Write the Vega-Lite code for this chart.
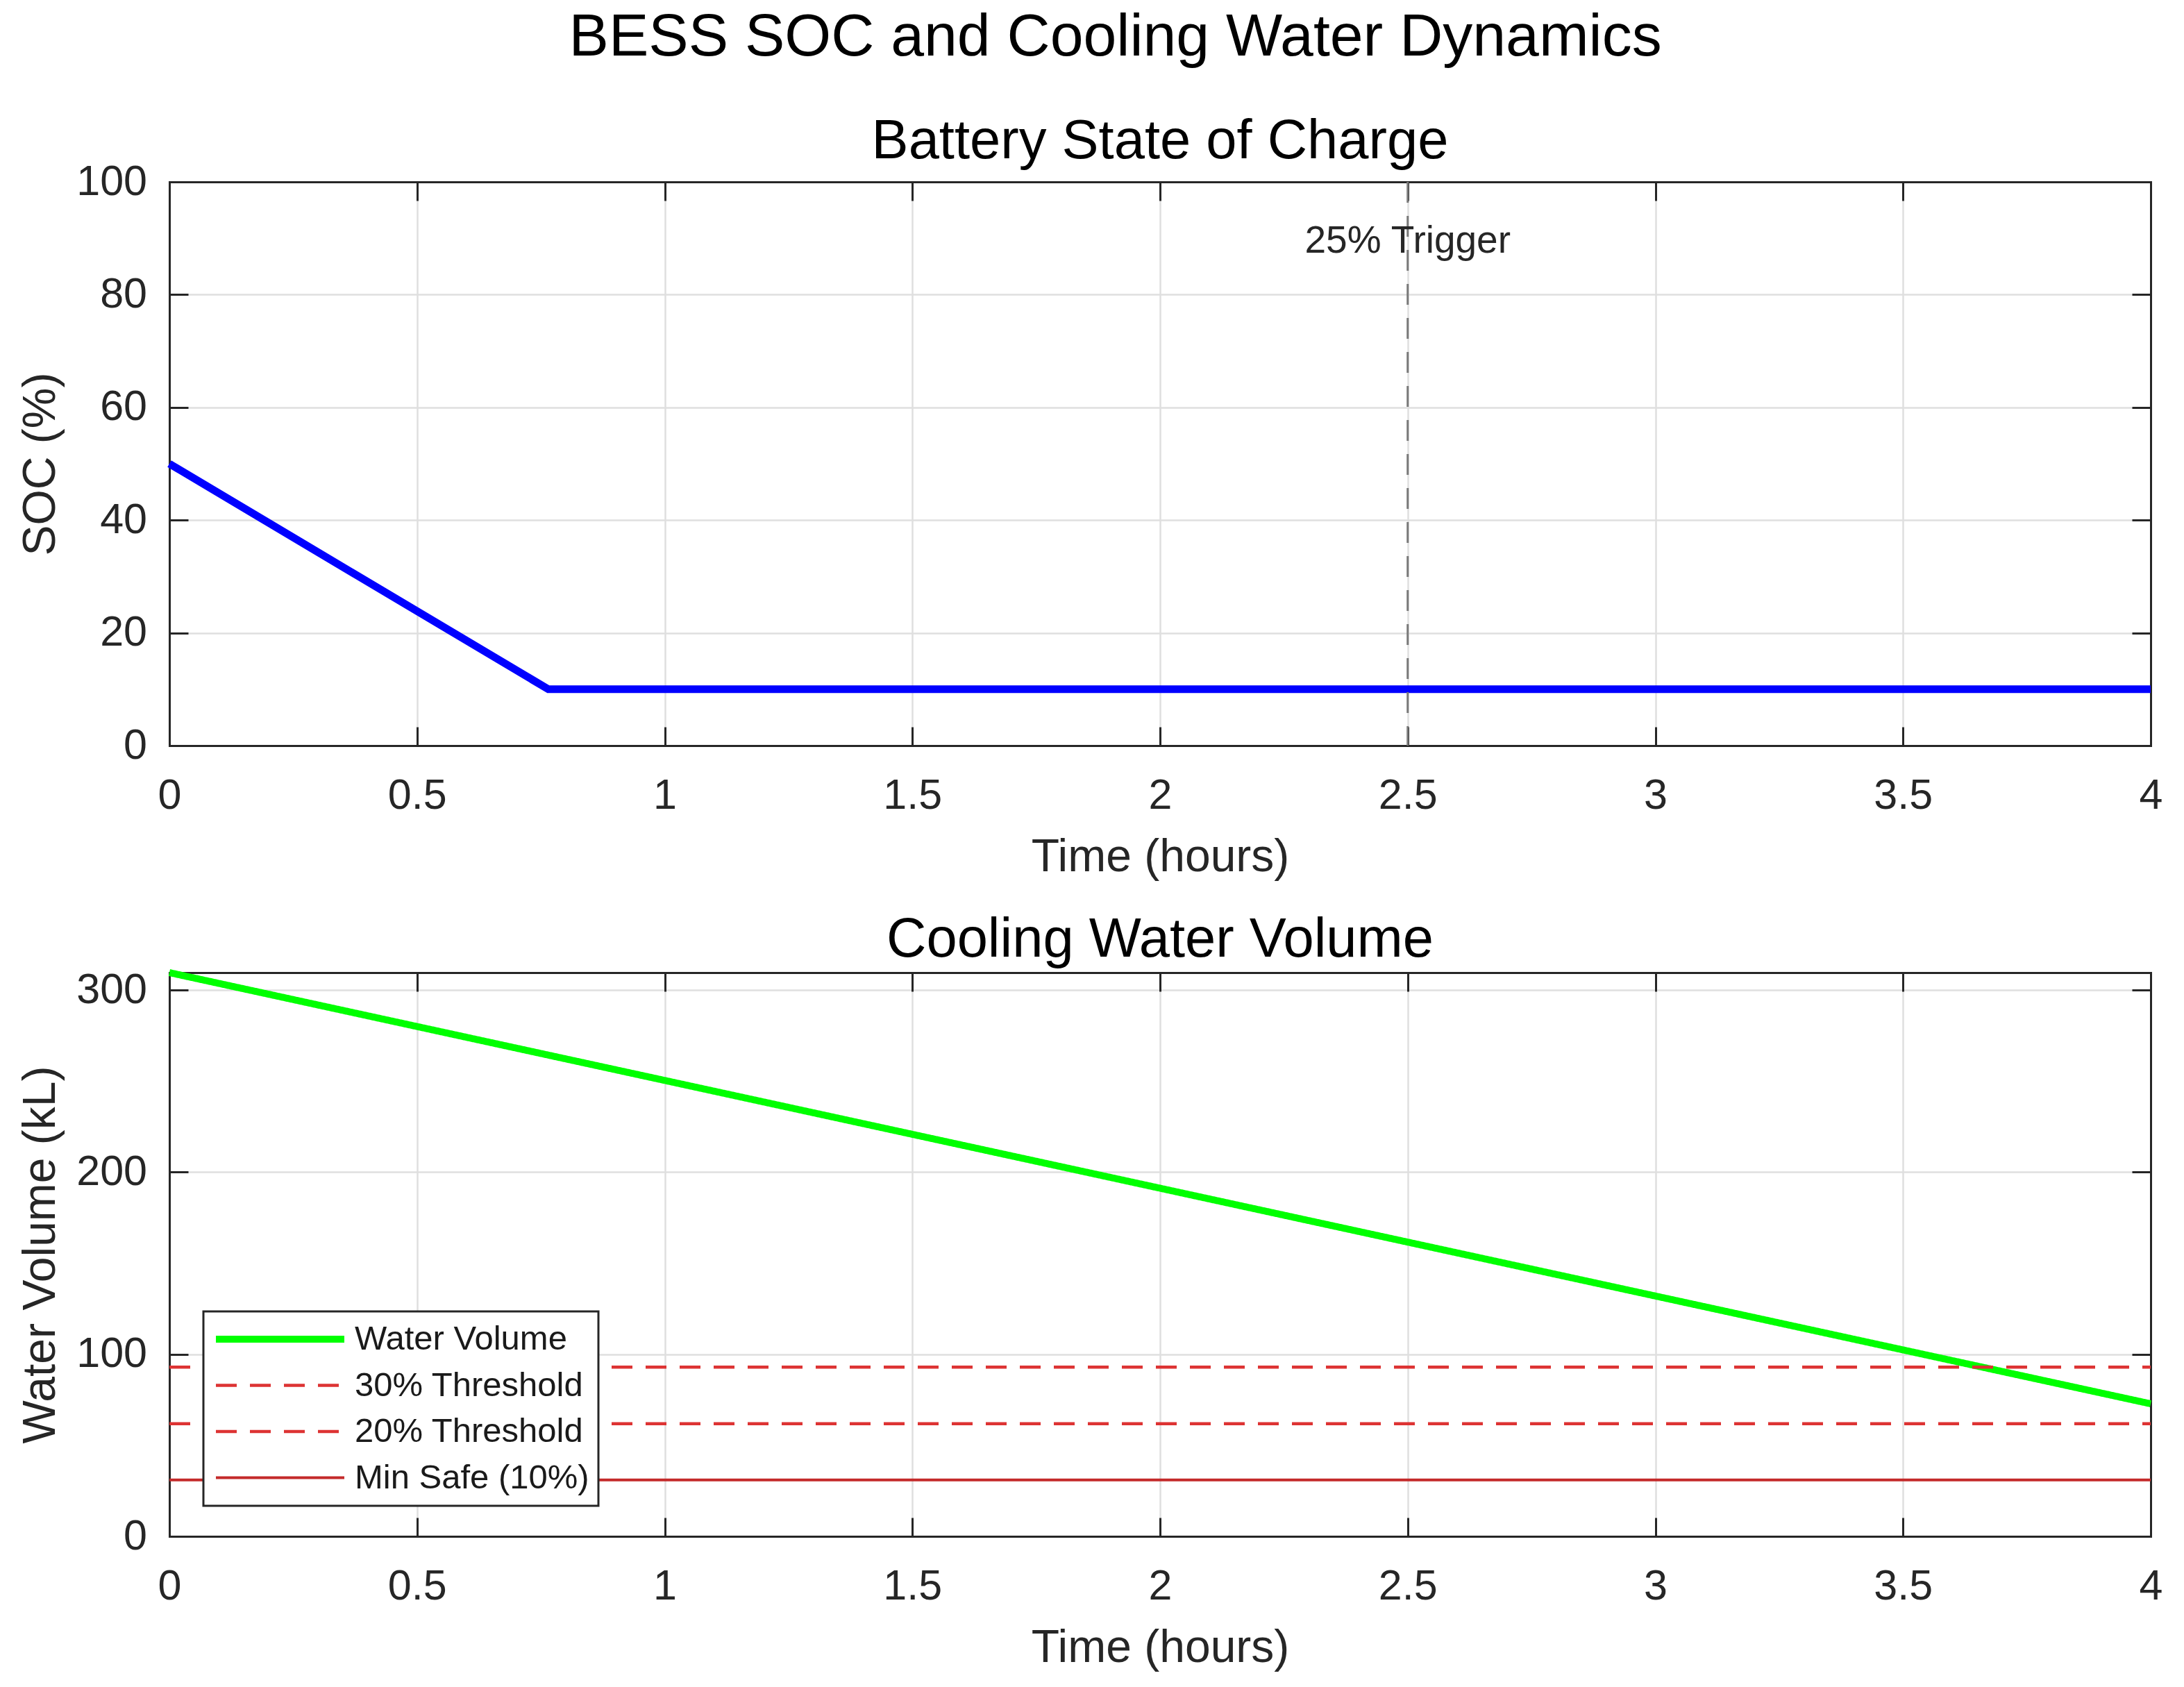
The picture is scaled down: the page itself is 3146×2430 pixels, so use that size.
{
  "$schema": "https://vega.github.io/schema/vega-lite/v6.json",
  "background": "white",
  "padding": {"left": 25, "top": 10, "right": 20, "bottom": 10},
  "title": {
    "text": "BESS SOC and Cooling Water Dynamics",
    "fontSize": 86,
    "offset": 66,
    "anchor": "middle",
    "dx": 34,
    "color": "#000000",
    "fontWeight": "normal",
    "font": "Liberation Sans"
  },
  "spacing": 45,
  "config": {
    "font": "Liberation Sans",
    "view": {"stroke": null},
    "axis": {
      "labelFont": "Liberation Sans",
      "titleFont": "Liberation Sans",
      "labelFontSize": 61,
      "labelColor": "#262626",
      "titleFontSize": 66,
      "titleFontWeight": "normal",
      "titleColor": "#262626",
      "domainColor": "#262626",
      "domainWidth": 3,
      "domainCap": "square",
      "tickColor": "#262626",
      "tickWidth": 3,
      "tickSize": -27,
      "gridColor": "#dfdfdf",
      "gridWidth": 2.5,
      "labelFlush": false,
      "labelOverlap": false,
      "format": "~f"
    },
    "axisX": {"labelPadding": 69.6, "titlePadding": 26},
    "axisY": {"labelPadding": 59.5, "titlePadding": 17.5},
    "title": {
      "font": "Liberation Sans",
      "fontSize": 79.5,
      "fontWeight": "normal",
      "color": "#000000",
      "offset": -13
    },
    "legend": {
      "strokeColor": "#262626",
      "strokeWidth": 3,
      "fillColor": "#ffffff",
      "padding": 13,
      "symbolType": "stroke",
      "symbolSize": 34225,
      "clipHeight": 54,
      "rowPadding": 12.5,
      "labelFont": "Liberation Sans",
      "labelFontSize": 49,
      "labelColor": "#1a1a1a",
      "labelOffset": 10,
      "labelLimit": 1000
    }
  },
  "vconcat": [
    {
      "width": 2854,
      "height": 812,
      "title": "Battery State of Charge",
      "resolve": {"axis": {"x": "independent", "y": "independent"}},
      "layer": [
        {
          "data": {"values": [
            {"t": 0, "soc": 50},
            {"t": 0.765, "soc": 10},
            {"t": 4, "soc": 10}
          ]},
          "mark": {"type": "line", "color": "#0000ff", "strokeWidth": 11},
          "encoding": {
            "x": {
              "field": "t", "type": "quantitative",
              "scale": {"domain": [0, 4], "nice": false, "zero": false},
              "axis": {"title": "Time (hours)", "values": [0, 0.5, 1, 1.5, 2, 2.5, 3, 3.5, 4], "format": "~f", "grid": true}
            },
            "y": {
              "field": "soc", "type": "quantitative",
              "scale": {"domain": [0, 100], "nice": false},
              "axis": {"title": "SOC (%)", "values": [0, 20, 40, 60, 80, 100], "format": "~f", "grid": true}
            }
          }
        },
        {
          "data": {"values": [{"t": 2.5}]},
          "mark": {"type": "rule", "color": "#7a7a7a", "strokeWidth": 3, "strokeDash": [30, 19]},
          "encoding": {
            "x": {
              "field": "t", "type": "quantitative",
              "scale": {"domain": [0, 4], "nice": false, "zero": false},
              "axis": {"orient": "top", "title": null, "labels": false, "grid": false, "values": [0, 0.5, 1, 1.5, 2, 2.5, 3, 3.5, 4]}
            }
          }
        },
        {
          "data": {"values": [{"t": 2.5, "y": 89.5, "label": "25% Trigger"}]},
          "mark": {"type": "text", "fontSize": 55, "font": "Liberation Sans", "color": "#262626", "align": "center", "baseline": "middle"},
          "encoding": {
            "x": {"field": "t", "type": "quantitative", "scale": {"domain": [0, 4], "nice": false, "zero": false}, "axis": null},
            "y": {
              "field": "y", "type": "quantitative",
              "scale": {"domain": [0, 100], "nice": false},
              "axis": {"orient": "right", "title": null, "labels": false, "grid": false, "values": [0, 20, 40, 60, 80, 100]}
            },
            "text": {"field": "label", "type": "nominal"}
          }
        }
      ]
    },
    {
      "width": 2854,
      "height": 812,
      "title": "Cooling Water Volume",
      "resolve": {"axis": {"x": "independent", "y": "independent"}},
      "layer": [
        {
          "data": {"values": [
            {"series": "Water Volume", "t": 0, "v": 309.6},
            {"series": "Water Volume", "t": 4, "v": 72.8}
          ]},
          "mark": {"type": "line"},
          "encoding": {
            "x": {
              "field": "t", "type": "quantitative",
              "scale": {"domain": [0, 4], "nice": false, "zero": false},
              "axis": {"title": "Time (hours)", "values": [0, 0.5, 1, 1.5, 2, 2.5, 3, 3.5, 4], "format": "~f", "grid": true}
            },
            "y": {
              "field": "v", "type": "quantitative",
              "scale": {"domain": [0, 309.6], "nice": false},
              "axis": {"title": "Water Volume (kL)", "values": [0, 100, 200, 300], "format": "~f", "grid": true}
            },
            "color": {
              "field": "series", "type": "nominal",
              "scale": {"domain": ["Water Volume", "30% Threshold", "20% Threshold", "Min Safe (10%)"], "range": ["#00ff00", "#dd3333", "#dd3333", "#c42a2a"]},
              "legend": {"title": null, "orient": "none", "legendX": 49, "legendY": 1627}
            },
            "strokeDash": {
              "field": "series", "type": "nominal",
              "scale": {"domain": ["Water Volume", "30% Threshold", "20% Threshold", "Min Safe (10%)"], "range": [[1, 0], [30, 19], [30, 19], [1, 0]]},
              "legend": {"title": null, "orient": "none", "legendX": 49, "legendY": 1627}
            },
            "strokeWidth": {
              "field": "series", "type": "nominal",
              "scale": {"type": "ordinal", "domain": ["Water Volume", "30% Threshold", "20% Threshold", "Min Safe (10%)"], "range": [10, 4.5, 4.5, 4]},
              "legend": {"title": null, "orient": "none", "legendX": 49, "legendY": 1627}
            }
          }
        },
        {
          "data": {"values": [
            {"series": "30% Threshold", "t0": 0, "t1": 4, "v": 92.9},
            {"series": "20% Threshold", "t0": 0, "t1": 4, "v": 61.9},
            {"series": "Min Safe (10%)", "t0": 0, "t1": 4, "v": 31.0}
          ]},
          "mark": {"type": "rule"},
          "encoding": {
            "x": {
              "field": "t0", "type": "quantitative",
              "scale": {"domain": [0, 4], "nice": false, "zero": false},
              "axis": {"orient": "top", "title": null, "labels": false, "grid": false, "values": [0, 0.5, 1, 1.5, 2, 2.5, 3, 3.5, 4]}
            },
            "x2": {"field": "t1"},
            "y": {
              "field": "v", "type": "quantitative",
              "scale": {"domain": [0, 309.6], "nice": false},
              "axis": {"orient": "right", "title": null, "labels": false, "grid": false, "values": [0, 100, 200, 300]}
            },
            "color": {
              "field": "series", "type": "nominal",
              "scale": {"domain": ["Water Volume", "30% Threshold", "20% Threshold", "Min Safe (10%)"], "range": ["#00ff00", "#dd3333", "#dd3333", "#c42a2a"]},
              "legend": {"title": null, "orient": "none", "legendX": 49, "legendY": 1627}
            },
            "strokeDash": {
              "field": "series", "type": "nominal",
              "scale": {"domain": ["Water Volume", "30% Threshold", "20% Threshold", "Min Safe (10%)"], "range": [[1, 0], [30, 19], [30, 19], [1, 0]]},
              "legend": {"title": null, "orient": "none", "legendX": 49, "legendY": 1627}
            },
            "strokeWidth": {
              "field": "series", "type": "nominal",
              "scale": {"type": "ordinal", "domain": ["Water Volume", "30% Threshold", "20% Threshold", "Min Safe (10%)"], "range": [10, 4.5, 4.5, 4]},
              "legend": {"title": null, "orient": "none", "legendX": 49, "legendY": 1627}
            }
          }
        }
      ]
    }
  ]
}
